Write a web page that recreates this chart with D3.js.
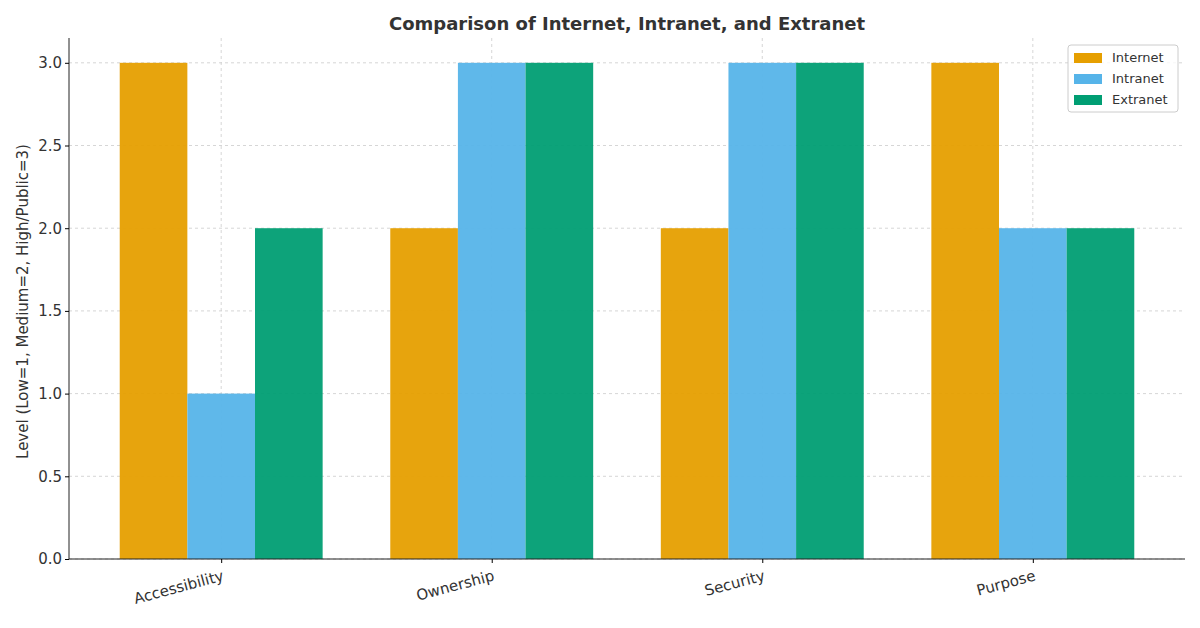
<!DOCTYPE html>
<html><head><meta charset="utf-8">
<script src="https://cdn.jsdelivr.net/npm/d3@7"></script>
<style>body{margin:0;background:#fff}text{font-family:"DejaVu Sans",sans-serif}</style>
</head><body><svg id="c" width="1200" height="628"></svg>
<script>
const categories=["Accessibility","Ownership","Security","Purpose"];
const seriesNames=["Internet","Intranet","Extranet"];
const internet=[3,2,2,3];
const intranet=[1,3,3,2];
const extranet=[2,3,3,2];
const yTicks=[0,0.5,1,1.5,2,2.5,3];
const colors=["#E69F00","#56B4E9","#009E73"];
const series=[internet,intranet,extranet];

const svg=d3.select("#c");
const L=69,R=1185,T=38,B=559;
const x=d3.scaleLinear().domain([-0.5625,3.5625]).range([L,R]);
const y=d3.scaleLinear().domain([0,3.15]).range([B,T]);
const bw=0.25;
const g=svg.append("g");
// grid
g.selectAll(".gy").data(yTicks).join("line").attr("x1",L).attr("x2",R).attr("y1",d=>y(d)).attr("y2",d=>y(d))
 .attr("stroke","#ccc").attr("stroke-dasharray","3,3").attr("stroke-width",0.8);
g.selectAll(".gx").data(categories).join("line").attr("x1",(d,i)=>x(i)).attr("x2",(d,i)=>x(i)).attr("y1",T).attr("y2",B)
 .attr("stroke","#ccc").attr("stroke-dasharray","3,3").attr("stroke-width",0.8);
series.forEach((s,k)=>{
  g.selectAll(".b"+k).data(s).join("rect")
   .attr("x",(d,i)=>x(i+(k-1)*bw-bw/2)).attr("width",x(bw)-x(0))
   .attr("y",d=>y(d)).attr("height",d=>B-y(d)).attr("fill",colors[k]).attr("opacity",0.95);
});
// axes
const ya=svg.append("g").attr("transform",`translate(${L},0)`).call(d3.axisLeft(y).tickValues(yTicks).tickFormat(d3.format(".1f")).tickSize(4).tickSizeOuter(0));
ya.selectAll("text").attr("font-size",15).attr("fill","#333").attr("font-family","DejaVu Sans");
ya.select(".domain").attr("d",`M0,${B}V${T}`).attr("stroke","#222");
const xa=svg.append("g").attr("transform",`translate(0,${B})`).call(d3.axisBottom(x).tickValues([0,1,2,3]).tickFormat(i=>categories[i]).tickSize(4).tickSizeOuter(0));
xa.select(".domain").attr("d",`M${L},0H${R}`).attr("stroke","#222");
xa.selectAll("text").attr("font-size",15).attr("fill","#333").attr("font-family","DejaVu Sans")
 .attr("text-anchor","end").attr("dy","0.3em").attr("transform","translate(0,10) rotate(-15)");
svg.append("text").attr("x",627).attr("y",30).attr("text-anchor","middle").attr("font-size",18).attr("font-weight","bold").attr("fill","#333")
 .text("Comparison of Internet, Intranet, and Extranet");
svg.append("text").attr("transform",`translate(28,${(T+B)/2+3}) rotate(-90)`).attr("text-anchor","middle").attr("font-size",15).attr("fill","#333")
 .text("Level (Low=1, Medium=2, High/Public=3)");
// legend
const lg=svg.append("g").attr("transform","translate(1068,45)");
lg.append("rect").attr("width",110).attr("height",67).attr("rx",3).attr("fill","#fff").attr("fill-opacity",0.8).attr("stroke","#ccc");
seriesNames.forEach((n,k)=>{
  lg.append("rect").attr("x",6).attr("y",8+k*21).attr("width",28).attr("height",10).attr("fill",colors[k]);
  lg.append("text").attr("x",44).attr("y",17+k*21).attr("font-size",13).attr("fill","#333").text(n);
});
</script></body></html>
